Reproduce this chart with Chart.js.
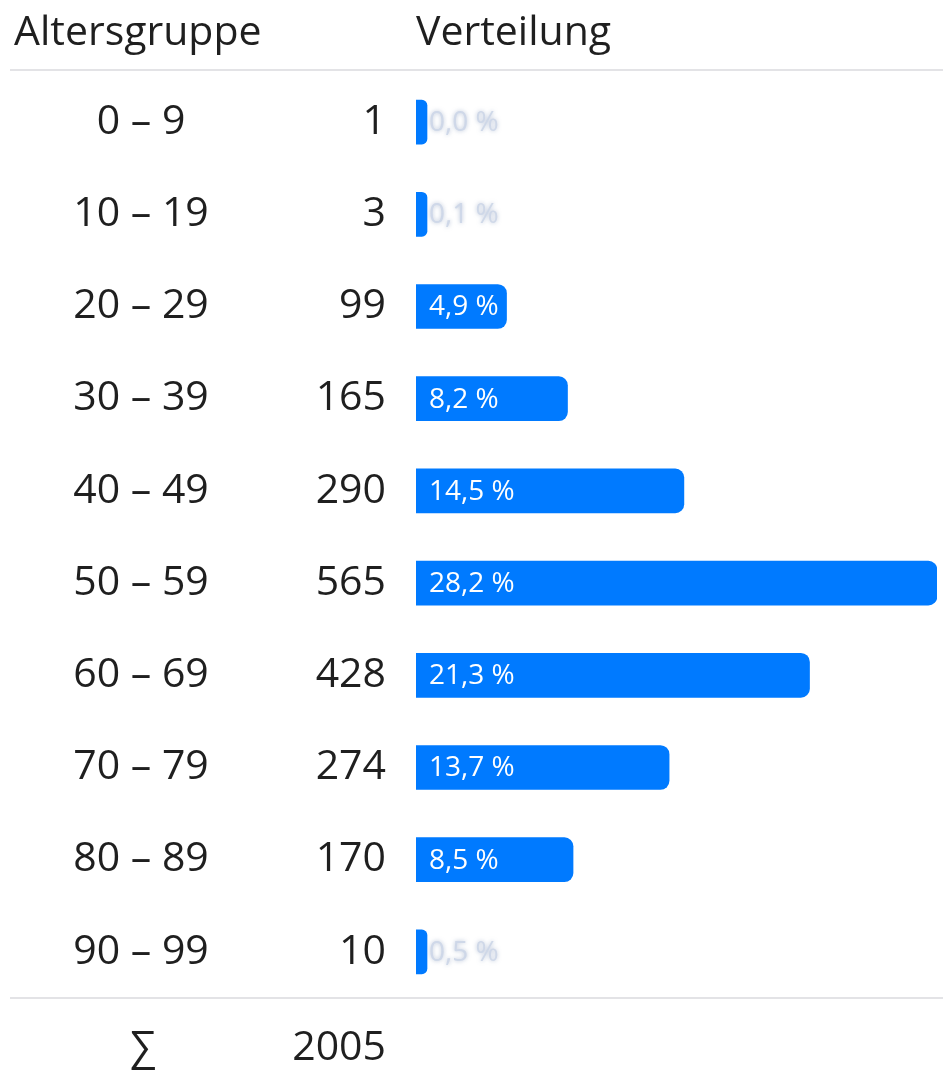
<!DOCTYPE html>
<html lang="de">
<head>
<meta charset="utf-8">
<title>Altersgruppe – Verteilung</title>
<script src="https://cdn.jsdelivr.net/npm/chart.js@4"></script>
<style>
  html,body{margin:0;padding:0;background:#fff;}
  #wrap{width:943px;height:1076px;}
</style>
</head>
<body>
<div id="wrap"><canvas id="ageChart" width="943" height="1076"></canvas></div>
<script>
/* Altersverteilung – table-like horizontal bar chart */

const ageGroups = ['0 – 9','10 – 19','20 – 29','30 – 39','40 – 49','50 – 59','60 – 69','70 – 79','80 – 89','90 – 99'];
const counts    = [1, 3, 99, 165, 290, 565, 428, 274, 170, 10];
const shares    = [0.0, 0.1, 4.9, 8.2, 14.5, 28.2, 21.3, 13.7, 8.5, 0.5];
const totalCount = 2005;
const headers   = ['Altersgruppe', 'Verteilung'];

const TEXT = '#1f1f1f';
const RULE = '#e3e3e6';
const BLUE = '#007aff';
const FONT = '"Open Sans", "Noto Sans", sans-serif';
const fmtPct = v => v.toFixed(1).replace('.', ',') + ' %';

const tablePlugin = {
  id: 'tablePlugin',
  afterDraw(chart){
    const ctx = chart.ctx;
    const y = chart.scales.y;
    const area = chart.chartArea;
    ctx.save();

    // header
    ctx.fillStyle = TEXT;
    ctx.font = '41px ' + FONT;
    ctx.textBaseline = 'alphabetic';
    ctx.textAlign = 'left';
    ctx.fillText(headers[0], 14, 45);
    ctx.fillText(headers[1], area.left, 45);

    // rules
    ctx.strokeStyle = RULE;
    ctx.lineWidth = 2;
    ctx.beginPath();
    ctx.moveTo(10, 70); ctx.lineTo(943, 70);
    ctx.moveTo(10, area.bottom); ctx.lineTo(943, area.bottom);
    ctx.stroke();

    // row labels + counts
    ctx.font = '41px ' + FONT;
    ctx.textBaseline = 'middle';
    ageGroups.forEach((g, i) => {
      const py = y.getPixelForValue(i);
      ctx.textAlign = 'center';
      ctx.fillText(g, 141, py);
      ctx.textAlign = 'right';
      ctx.fillText(String(counts[i]), 386, py);
    });

    // sum row
    ctx.textAlign = 'center';
    ctx.fillText('\u2211', 143, 1048);
    ctx.textAlign = 'right';
    ctx.fillText(String(totalCount), 386, 1048);

    // percentage labels
    const meta = chart.getDatasetMeta(0);
    ctx.font = '28px ' + FONT;
    ctx.textAlign = 'left';
    meta.data.forEach((bar, i) => {
      const label = fmtPct(shares[i]);
      const w = ctx.measureText(label).width;
      const x0 = bar.base + 13;
      if (bar.x - bar.base > w + 16){
        ctx.shadowBlur = 0;
        ctx.fillStyle = '#ffffff';
      } else {
        ctx.shadowColor = 'rgba(120,140,180,0.6)';
        ctx.shadowBlur = 4;
        ctx.fillStyle = 'rgba(205,215,232,0.95)';
      }
      ctx.fillText(label, x0, bar.y + 1);
    });
    ctx.restore();
  }
};

new Chart(document.getElementById('ageChart'), {
  type: 'bar',
  data: {
    labels: ageGroups,
    datasets: [{
      data: shares,
      backgroundColor: BLUE,
      borderRadius: 9,
      borderSkipped: 'start',
      barThickness: 44,
      minBarLength: 11
    }]
  },
  options: {
    indexAxis: 'y',
    responsive: false,
    animation: false,
    devicePixelRatio: 1,
    layout: { padding: { left: 416, right: 6, top: 76, bottom: 78 } },
    scales: {
      x: { display: false, min: 0, max: 28.2 },
      y: { display: false }
    },
    plugins: { legend: { display: false }, tooltip: { enabled: false } }
  },
  plugins: [tablePlugin]
});
</script>
</body>
</html>
